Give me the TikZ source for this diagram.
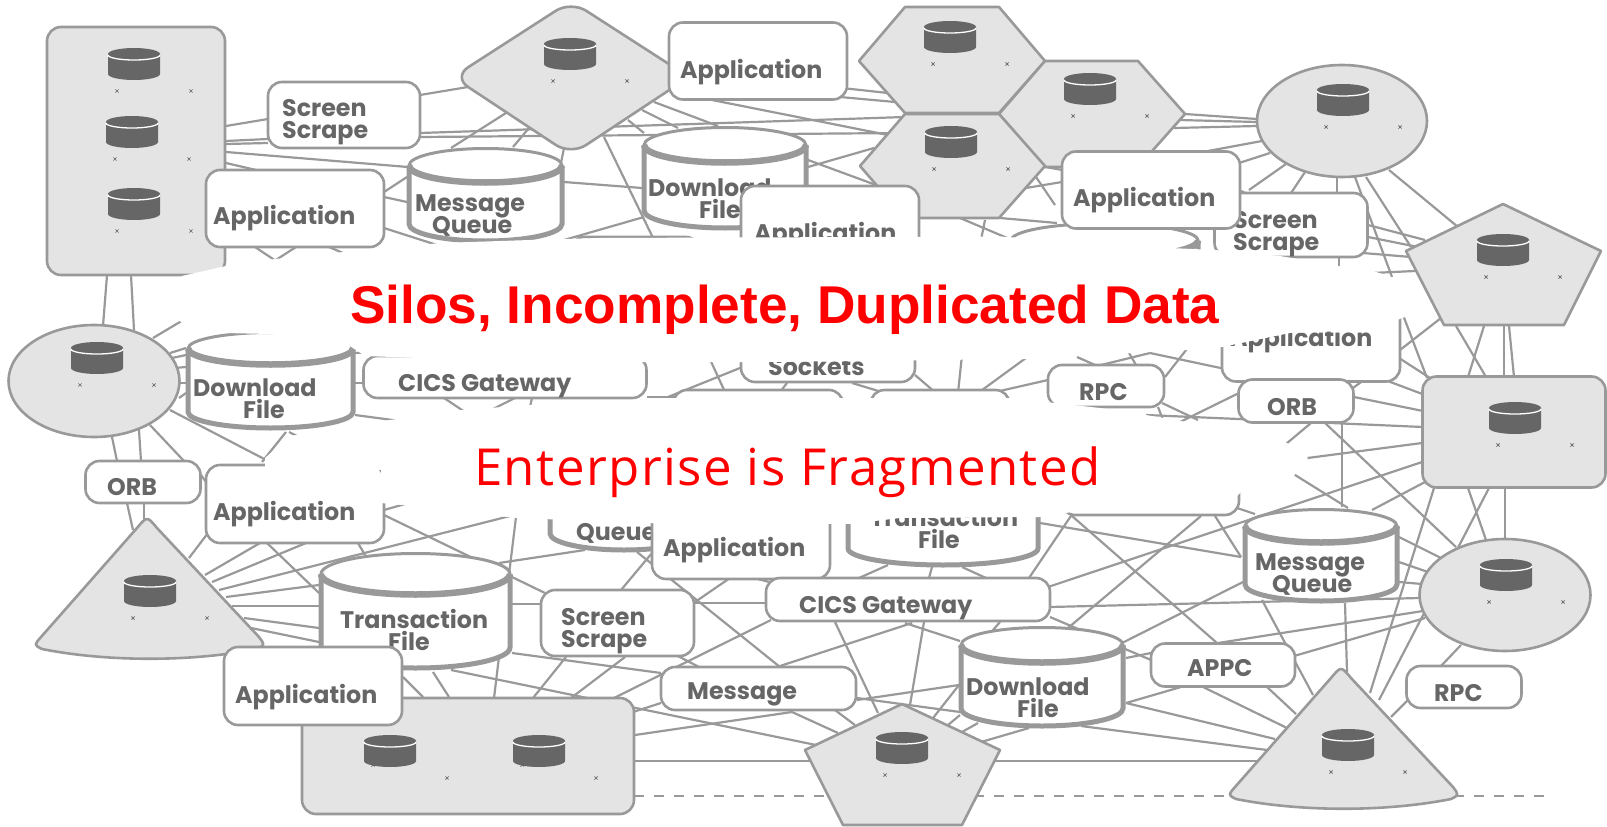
\documentclass[tikz,border=0pt]{standalone}
\usepackage{fontspec}
\usetikzlibrary{calc}
\newfontfamily\lblf[FakeStretch=0.99]{Poppins}
\newfontfamily\tonef{Liberation Sans}
\newfontfamily\ttwof[LetterSpace=2.8]{Open Sans}
\definecolor{lc}{HTML}{999999}
\definecolor{sf}{HTML}{E4E4E4}
\definecolor{tc}{HTML}{666666}
\newcommand{\lblstyle}{\lblf\bfseries\fontsize{24}{21.5}\selectfont\lineskiplimit -50pt\relax}
\tikzset{
 lk/.style={draw=lc,line width=2.2pt},
 lkdash/.style={draw=lc,line width=2.4pt,dash pattern=on 10pt off 10pt},
 box/.style={draw=lc,fill=white,line width=2.6pt,rounded corners=14pt,inner sep=0pt},
 rack/.style={draw=lc,fill=sf,line width=2.6pt,rounded corners=14pt,inner sep=0pt},
 ell/.style={draw=lc,fill=sf,line width=2.6pt},
 poly/.style={draw=lc,fill=sf,line width=2.6pt,line join=round},
 lbl/.style={inner sep=0pt,text=tc,font=\lblstyle,align=left,anchor=base west},
 hd/.style={inner sep=0pt,text=red,anchor=base west}
}
% connector between named places, each with an offset
\newcommand{\lk}[4]{\draw[lk] ($(#1)+(#2)$) -- ($(#3)+(#4)$);}
% database icon with its two small marks; optional: height of the left mark
\newcommand{\dbicon}[3][27]{%
 \begin{scope}[shift={(#2,#3)}]
  \fill[tc] (-26,-10) arc[start angle=180,end angle=0,x radius=26pt,y radius=6pt] -- (26,10) arc[start angle=0,end angle=-180,x radius=26pt,y radius=6pt] -- cycle;
  \draw[white,line width=1.3pt] (-26,-9) arc[start angle=180,end angle=360,x radius=26pt,y radius=5pt];
  \draw[tc,line width=.7pt] (55.4,25.4)--(58.6,28.6) (55.4,28.6)--(58.6,25.4);
  \draw[tc,line width=.7pt] (-18.6,#1-1.6)--(-15.4,#1+1.6) (-18.6,#1+1.6)--(-15.4,#1-1.6);
 \end{scope}}
% cylinder: name, x1, x2, ytop, ylip, ybottom (outer edges)
\newcommand{\cyl}[6]{%
 \pgfmathsetmacro\cxa{#2+2}\pgfmathsetmacro\cxb{#3-2}
 \pgfmathsetmacro\crx{(#3-#2)/2-2}\pgfmathsetmacro\cry{(#5-#4)/2-1}\pgfmathsetmacro\cym{(#4+#5)/2+0.5}\pgfmathsetmacro\cyb{#6-2-\cry}
 \pgfmathsetmacro\cxm{(#2+#3)/2}
 \coordinate (#1) at (\cxm,\cym);
 \fill[white] (\cxa,\cym) arc[start angle=180,end angle=0,x radius=\crx pt,y radius=\cry pt] -- (\cxb,\cyb) arc[start angle=0,end angle=-180,x radius=\crx pt,y radius=\cry pt] -- cycle;
 \draw[lc,line width=5pt] (\cxa,\cym) -- (\cxa,\cyb) arc[start angle=180,end angle=360,x radius=\crx pt,y radius=\cry pt] -- (\cxb,\cym);
 \draw[lc,line width=3pt] (\cxm,\cym) ellipse[x radius=\crx pt,y radius=\cry pt];
 \draw[lc,line width=6.5pt] (\cxa,\cym) arc[start angle=180,end angle=360,x radius=\crx pt,y radius=\cry pt];
}
% rounded triangle with curved base: name, apex x, apex y
\newcommand{\tria}[3]{%
 \begin{scope}[shift={(#2,#3)}]
 \draw[poly] (-10,8) -- (-106,117) .. controls (-113,125) .. (-105,129) .. controls (-40,142) and (45,142) .. (110,129) .. controls (118,125) .. (112,117) -- (10,8) .. controls (0,-4) .. (-10,8) -- cycle;
 \end{scope}}
\begin{document}
\begin{tikzpicture}[x=1pt,y=-1pt]
\useasboundingbox (0,0) rectangle (1607,827);
% named places
\foreach \n/\x/\y in {rA/136/151,scr1/344/115,app2/295/208,mq1/485/195,dia/571/77,app1/758/61,hex1/952/60,hex2/1092/114,hex3/952/166,dl1/725/178,app4/830/212,app5/1151/190,ell1/1342/121,scr2/1291/225,cylH/1105/250,pent1/1503/265,app6/1311/343,rpc1/1106/386,orb1/1296/401,sock/828/360,cics1/505/377,hbA/758/410,hbB/940/410,hbC/1150/480,hbD/635/265,ell2/94/381,dl2/270/380,orb2/143/482,app7/295/504,tri1/150/590,tf1/415/611,app8/313/686,rB/468/756,q2/625/510,app9/741/540,tf2/943/520,cics2/908/600,scr3/617/623,msg/758/688,dl3/1042/677,pent2/902/765,mq2/1321/555,rC/1514/432,ell3/1505/595,appc/1223/665,rpc2/1464/687,tri2/1342/740}
 {\coordinate (\n) at (\x,\y);}
% connectors
\lk{rA}{90,-25}{scr1}{-76,4}
\lk{rA}{90,-10}{scr1}{-76,24}
\lk{rA}{90,-7}{scr1}{-76,28}
\lk{scr1}{76,-20}{dia}{-103,10}
\lk{scr1}{76,18}{hex3}{-47,-49}
\lk{scr1}{76,22}{hex3}{-52,-33}
\lk{rA}{90,1}{mq1}{-77,-28}
\lk{rA}{90,12}{app2}{-39,-38}
\lk{app2}{89,-16}{mq1}{-78,-18}
\lk{app2}{89,-11}{mq1}{-78,7}
\lk{app2}{89,20}{mq1}{-48,50}
\lk{app2}{-40,39}{dl2}{15,-113}
\lk{app2}{1,39}{dl2}{-5,-113}
\lk{app2}{34,39}{dl2}{80,-124}
\lk{dia}{-65,36}{mq1}{-34,-47}
\lk{dia}{-42,51}{mq1}{28,-48}
\lk{dia}{-7,71}{mq1}{76,-32}
\lk{mq1}{79,-13}{dl1}{-83,10}
\lk{dia}{33,60}{dl1}{-70,64}
\lk{dl1}{-81,39}{mq1}{79,45}
\lk{dia}{83,25}{dl1}{-7,-52}
\lk{dia}{71,33}{dl1}{-47,-50}
\lk{dia}{57,43}{dl1}{-81,-45}
\lk{app1}{84,27}{hex1}{-64,33}
\lk{app1}{82,36}{hex1}{-57,42}
\lk{app1}{-46,39}{hex3}{-64,-31}
\lk{dl1}{83,-11}{hex3}{-78,-18}
\lk{dl1}{83,-18}{hex3}{-76,19}
\lk{hex2}{93,0}{ell1}{-85,-2}
\lk{hex2}{87,6}{ell1}{-85,1}
\lk{hex2}{82,14}{ell1}{-85,5}
\lk{app5}{57,-39}{ell1}{-80,20}
\lk{app5}{88,-27}{ell1}{-72,32}
\lk{scr2}{-42,-35}{ell1}{-56,43}
\lk{scr2}{0,-32}{ell1}{-37,51}
\lk{scr2}{46,-32}{ell1}{-5,56}
\lk{app5}{90,1}{scr2}{-35,-27}
\lk{ell1}{13,56}{pent1}{-111,12}
\lk{ell1}{24,56}{pent1}{-92,-18}
\lk{ell1}{47,49}{pent1}{-45,-38}
\lk{scr2}{77,0}{pent1}{-78,-25}
\lk{scr2}{77,12}{pent1}{-85,-18}
\lk{scr2}{72,28}{pent1}{-92,-8}
\lk{scr2}{59,49}{pent1}{-88,6}
\lk{scr2}{48,32}{app6}{28,-68}
\lk{pent1}{-47,61}{rC}{-28,-55}
\lk{pent1}{-19,61}{rC}{-46,-55}
\lk{pent1}{1,61}{rC}{-10,-55}
\lk{pent1}{6,61}{rC}{0,-55}
\lk{pent1}{-62,53}{app6}{89,7}
\lk{app6}{88,15}{rC}{-84,-54}
\lk{pent1}{-103,42}{rC}{-87,-54}
\lk{app6}{42,25}{rC}{-89,-37}
\lk{app6}{30,25}{orb1}{45,-21}
\lk{app6}{-19,25}{orb1}{-29,-21}
\lk{app6}{-44,25}{orb1}{-17,-21}
\lk{app6}{69,25}{orb1}{57,-13}
\lk{orb1}{58,-4}{rC}{-91,-21}
\lk{orb1}{-57,-8}{hbC}{30,-58}
\lk{rpc1}{44,-33}{orb1}{-19,-21}
\lk{rpc1}{-5,-21}{rpc1}{44,-33}
\lk{rpc1}{-29,-29}{rpc1}{-11,-21}
\lk{rpc1}{23,-33}{rpc1}{30,-21}
\lk{app6}{-121,2}{rpc1}{59,-9}
\lk{rpc1}{56,17}{hbC}{48,-60}
\lk{rpc1}{52,21}{hbC}{15,-55}
\lk{hbC}{-4,-65}{rC}{-91,-5}
\lk{orb1}{15,22}{hbC}{130,-31}
\lk{orb1}{29,22}{ell3}{-49,-48}
\lk{orb1}{46,22}{mq2}{21,-48}
\lk{rC}{-92,11}{hbC}{150,-21}
\lk{rC}{-92,30}{cics2}{140,-13}
\lk{hbC}{137,-10}{mq2}{27,-47}
\lk{rC}{-89,50}{mq2}{51,-45}
\lk{rC}{-80,56}{tri2}{28,-47}
\lk{rC}{-46,56}{ell3}{-19,-55}
\lk{rC}{-25,56}{tri2}{37,-40}
\lk{rC}{-9,56}{ell3}{0,-57}
\lk{mq2}{78,-18}{ell3}{-64,-37}
\lk{mq2}{78,7}{ell3}{-77,-23}
\lk{mq2}{78,27}{ell3}{-83,-11}
\lk{cics2}{142,7}{ell3}{-85,3}
\lk{mq2}{-59,45}{tri2}{-29,-45}
\lk{mq2}{24,48}{tri2}{5,-68}
\lk{ell3}{-82,16}{appc}{-5,-22}
\lk{ell3}{-80,23}{appc}{71,-9}
\lk{ell3}{-44,50}{rpc2}{-23,-21}
\lk{rpc2}{-56,13}{tri2}{49,-23}
\lk{tf2}{97,3}{mq2}{-80,2}
\lk{hbC}{-78,36}{appc}{-6,-22}
\lk{hbC}{51,36}{dl3}{20,-44}
\lk{hbC}{65,36}{mq2}{-80,2}
\lk{hbC}{87,28}{mq2}{-66,-41}
\lk{mq2}{-78,27}{dl3}{80,-34}
\lk{dl3}{84,-19}{appc}{-72,-12}
\lk{cics2}{142,17}{appc}{-72,-5}
\lk{dl3}{84,26}{appc}{-42,22}
\lk{appc}{-20,22}{tri2}{-55,-12}
\lk{appc}{44,22}{tri2}{-46,-26}
\lk{dl3}{84,26}{tri2}{-67,-1}
\lk{dl3}{39,49}{tri2}{-75,10}
\lk{rB}{166,5}{tri2}{-84,21}
\draw[lkdash] ($(rB)+(166,40)$) -- ($(tri2)+(202,56)$);
\lk{tf1}{84,-48}{q2}{-40,40}
\lk{q2}{12,42}{msg}{22,-21}
\lk{msg}{22,-22}{cics2}{4,23}
\lk{app9}{-89,13}{scr3}{4,-33}
\lk{app9}{-11,38}{scr3}{78,-21}
\lk{scr3}{77,-20}{cics2}{-142,3}
\lk{app9}{13,38}{cics2}{-135,-17}
\lk{app7}{89,11}{scr3}{-72,-30}
\lk{tf1}{97,-7}{scr3}{-76,-19}
\lk{cics2}{-137,20}{rB}{146,-58}
\lk{scr3}{59,32}{msg}{-59,-21}
\lk{tf1}{97,42}{msg}{-97,-15}
\lk{scr3}{-51,34}{rB}{65,-58}
\lk{scr3}{8,34}{rB}{103,-58}
\lk{tf1}{36,59}{pent2}{-86,-20}
\lk{rB}{165,-44}{msg}{-97,15}
\lk{rB}{167,-21}{msg}{34,24}
\lk{msg}{34,24}{pent2}{-64,-32}
\lk{msg}{77,22}{pent2}{-47,-40}
\lk{msg}{99,12}{dl3}{-83,8}
\lk{msg}{99,10}{dl3}{-82,35}
\lk{cics2}{-73,22}{pent2}{-24,-52}
\lk{cics2}{16,22}{pent2}{8,-60}
\lk{cics2}{-3,23}{dl3}{-82,-36}
\lk{dl3}{-83,8}{pent2}{31,-47}
\lk{dl3}{-82,38}{pent2}{46,-40}
\lk{dl3}{-64,46}{pent2}{60,-33}
\lk{dl3}{-13,51}{pent2}{79,-23}
\lk{cics2}{92,22}{dl3}{-49,-47}
\lk{tf2}{-55,45}{cics2}{-49,-22}
\lk{tf2}{-11,47}{cics2}{21,-22}
\lk{tf2}{19,47}{cics2}{78,-22}
\lk{hbC}{-75,30}{cics2}{121,-22}
\lk{cics1}{142,20}{hbA}{-83,-13}
\lk{hbA}{-90,-13}{sock}{-88,8}
\lk{cics1}{203,-22}{hbA}{-33,-18}
\lk{sock}{-41,23}{hbA}{22,-18}
\lk{sock}{24,23}{hbB}{-55,-17}
\lk{sock}{87,15}{hbB}{-4,-17}
\lk{sock}{134,-5}{hbB}{18,-17}
\lk{rpc1}{-76,-31}{hbB}{38,-17}
\lk{rpc1}{-58,-6}{hbB}{51,-17}
\lk{ell2}{76,-28}{dl2}{-84,-32}
\lk{ell2}{78,-23}{dl2}{-84,-25}
\lk{ell2}{81,-13}{dl2}{-84,-13}
\lk{ell2}{85,2}{dl2}{-84,3}
\lk{ell2}{85,17}{dl2}{-84,13}
\lk{ell2}{59,-43}{dl2}{-80,-64}
\lk{ell2}{76,29}{app7}{-25,-42}
\lk{dl2}{16,52}{app7}{-33,-42}
\lk{dl2}{19,52}{dl2}{35,60}
\lk{dl2}{85,-27}{cics1}{-85,-28}
\lk{dl2}{85,3}{cics1}{-141,6}
\lk{dl2}{85,35}{cics1}{-105,44}
\lk{cics1}{-61,21}{cics1}{-40,35}
\lk{cics1}{-14,33}{cics1}{10,21}
\lk{cics1}{25,30}{cics1}{27,21}
\lk{rA}{-29,124}{ell2}{9,-55}
\lk{rA}{-5,124}{ell2}{40,-51}
\lk{ell2}{18,56}{orb2}{-26,-21}
\lk{ell2}{45,49}{orb2}{-2,-21}
\lk{ell2}{56,44}{orb2}{41,-21}
\lk{orb2}{58,-7}{app7}{-89,-22}
\lk{orb2}{-16,21}{tri1}{-17,-60}
\lk{orb2}{1,21}{tri1}{-6,-68}
\lk{app7}{-87,29}{tri1}{39,-32}
\lk{app7}{-35,39}{tri1}{55,-15}
\lk{app7}{11,39}{tri1}{62,-8}
\lk{tf1}{95,-95}{tri1}{69,0}
\lk{tf1}{-96,-26}{tri1}{76,7}
\lk{tf1}{-96,-5}{tri1}{82,16}
\lk{tf1}{-96,17}{tri1}{94,28}
\lk{tf1}{-96,31}{tri1}{101,38}
\lk{app7}{-28,39}{tf1}{-96,-18}
\lk{app7}{63,39}{tf1}{-50,-56}
\lk{app7}{89,6}{app7}{110,0}
\lk{q2}{-109,7}{rB}{26,-58}
\lk{tf1}{-12,66}{rB}{-45,-59}
\lk{tf1}{18,61}{rB}{-19,-59}
\lk{hex3}{84,11}{app5}{-96,15}
\lk{app5}{-89,-8}{hex3}{74,22}
\lk{hex3}{94,1}{app5}{-89,-20}
\lk{hex3}{8,52}{cylH}{-93,-10}
\lk{hex3}{33,54}{cylH}{-124,-10}
\lk{hex3}{48,52}{cylH}{-48,-27}
% servers
\node[rack,minimum width=178pt,minimum height=248pt] (rAs) at (rA) {};
\dbicon{134}{64}\dbicon{132}{132}\dbicon{134}{204}
\draw[poly,rounded corners=18pt] (453,77) -- (571,1) -- (689,77) -- (571,155) -- cycle;
\dbicon{570}{54}
\draw[poly] (859,61) -- (905,7) -- (999,7) -- (1045,61) -- (999,113) -- (905,113) -- cycle;
\dbicon{950}{37}
\draw[poly] (999,114) -- (1045,61) -- (1138,61) -- (1185,114) -- (1138,167) -- (1045,167) -- cycle;
\dbicon{1090}{89}
\draw[poly] (860,166) -- (905,114) -- (999,114) -- (1045,166) -- (999,218) -- (905,218) -- cycle;
\dbicon{951}{142}
\draw[ell] (ell1) ellipse[x radius=85pt,y radius=56pt];
\dbicon{1343}{100}
\draw[ell] (ell2) ellipse[x radius=85.5pt,y radius=56pt];
\dbicon{97}{358}
\draw[ell] (ell3) ellipse[x radius=85.5pt,y radius=56pt];
\dbicon{1506}{575}
\draw[poly] (1503,204) -- (1601,251) -- (1564,325) -- (1444,325) -- (1406,251) -- cycle;
\dbicon{1503}{250}
\draw[poly] (902,704) -- (1000,750) -- (962,825) -- (843,825) -- (805,750) -- cycle;
\dbicon{902}{748}
\node[rack,minimum width=183pt,minimum height=111pt] (rCs) at (rC) {};
\dbicon{1515}{418}
\node[rack,minimum width=332pt,minimum height=116pt] (rBs) at (rB) {};
\dbicon[14]{390}{751}\dbicon[14]{539}{751}
\tria{tri1s}{147}{520}
\dbicon{150}{591}
\tria{tri2s}{1341}{670}
\dbicon{1348}{745}
% storage
\cyl{mq1c}{407}{564}{147}{183}{243}
\node[lbl] (mq1t) at (415,233) {Message\\[0pt]\hspace*{17pt}Queue};
\cyl{dl1c}{642}{808}{126}{163}{230}
\node[lbl] (dl1t) at (648,218) {Download\\[0pt]\hspace*{51pt}File};
\cyl{cylHc}{1009}{1200}{222}{258}{300}
\cyl{dl2c}{186}{355}{331}{365}{430}
\node[lbl] (dl2t) at (193,418) {Download\\[0pt]\hspace*{50pt}File};
\cyl{tf1c}{319}{512}{552}{595}{670}
\node[lbl] (tf1t) at (340,650) {Transaction\\[0pt]\hspace*{48pt}File};
\cyl{q2c}{548}{700}{480}{515}{552}
\node[lbl] (q2t) at (576,540) {Queue};
\cyl{tf2c}{846}{1040}{465}{500}{567}
\node[lbl] (tf2t) at (870,548) {Transaction\\[0pt]\hspace*{48pt}File};
\cyl{dl3c}{959}{1125}{626}{663}{728}
\node[lbl] (dl3t) at (966,717) {Download\\[0pt]\hspace*{51pt}File};
\cyl{mq2c}{1243}{1399}{508}{543}{603}
\node[lbl] (mq2t) at (1255,592) {Message\\[0pt]\hspace*{17pt}Queue};
% gateway boxes
\node[box,minimum width=130pt,minimum height=56pt] (hbDs) at (hbD) {};
\node[box,minimum width=170pt,minimum height=40pt] (hbAs) at (hbA) {};
\node[box,minimum width=139pt,minimum height=40pt] (hbBs) at (hbB) {};
\node[box,minimum width=178pt,minimum height=70pt] (hbCs) at (hbC) {};
\node[box,minimum width=152pt,minimum height=66pt] (scr1s) at (scr1) {};
\node[lbl] (scr1t) at (282,138) {Screen\\Scrape};
\node[box,minimum width=178pt,minimum height=77pt] (app2s) at (295,208.5) {};
\node[lbl] (app2t) at (213,224) {Application};
\node[box,minimum width=178pt,minimum height=77pt] (app1s) at (app1) {};
\node[lbl] (app1t) at (680,78) {Application};
\node[box,minimum width=178pt,minimum height=77pt] (app4s) at (830,224.5) {};
\node[lbl] (app4t) at (754,241) {Application};
\node[box,minimum width=153pt,minimum height=64pt] (scr2s) at (scr2) {};
\node[lbl] (scr2t) at (1233,250) {Screen\\Scrape};
\node[box,minimum width=178pt,minimum height=77pt] (app5s) at (app5) {};
\node[lbl] (app5t) at (1073,206) {Application};
\node[box,minimum width=178pt,minimum height=77pt] (app6s) at (app6) {};
\node[lbl] (app6t) at (1230,346) {Application};
\node[box,minimum width=116pt,minimum height=42pt] (rpc1s) at (rpc1) {};
\node[lbl] (rpc1t) at (1079,400) {RPC};
\node[box,minimum width=115pt,minimum height=43pt] (orb1s) at (orb1) {};
\node[lbl] (orb1t) at (1267,415) {ORB};
\node[box,minimum width=174pt,minimum height=44pt] (socks) at (sock) {};
\node[lbl] (sockt) at (768,375) {Sockets};
\node[box,minimum width=283pt,minimum height=42pt] (cics1s) at (cics1) {};
\node[lbl] (cics1t) at (398,391) {CICS Gateway};
\node[box,minimum width=115pt,minimum height=42pt] (orb2s) at (orb2) {};
\node[lbl] (orb2t) at (107,495) {ORB};
\node[box,minimum width=178pt,minimum height=78pt] (app7s) at (app7) {};
\node[lbl] (app7t) at (213,520) {Application};
\node[box,minimum width=178pt,minimum height=78pt] (app8s) at (app8) {};
\node[lbl] (app8t) at (235,703) {Application};
\node[box,minimum width=178pt,minimum height=78pt] (app9s) at (app9) {};
\node[lbl] (app9t) at (663,556) {Application};
\node[box,minimum width=284pt,minimum height=43pt] (cics2s) at (908,599.5) {};
\node[lbl] (cics2t) at (799,613) {CICS Gateway};
\node[box,minimum width=153pt,minimum height=66pt] (scr3s) at (617.5,623) {};
\node[lbl] (scr3t) at (561,647) {Screen\\Scrape};
\node[box,minimum width=195pt,minimum height=43pt] (msgs) at (758.5,688.5) {};
\node[lbl] (msgt) at (687,699) {Message};
\node[box,minimum width=144pt,minimum height=43pt] (appcs) at (appc) {};
\node[lbl] (appct) at (1187,676) {APPC};
\node[box,minimum width=115pt,minimum height=42pt] (rpc2s) at (rpc2) {};
\node[lbl] (rpc2t) at (1434,701) {RPC};
% white clouds over the picture
\fill[white] (226,266) -- (275,259) -- (344,252) -- (441,243) -- (530,240) -- (600,238) -- (1000,236.5) -- (1170,248) -- (1215,250) -- (1280,256) -- (1339,266) -- (1373,271) -- (1400,280) -- (1415,292) -- (1405,317) -- (1371,330) -- (1290,333) -- (1222,347) -- (1187,350) -- (1024,359) -- (770,362) -- (530,362) -- (365,356) -- (350,346) -- (270,334) -- (224,333) -- (181,322) -- (155,300) -- (182,276) -- cycle;
\fill[white] (265,458) -- (290,436) -- (390,420) -- (461,410) -- (530,405) -- (668,398) -- (1010,398) -- (1100,408) -- (1140,414) -- (1198,424) -- (1240,426) -- (1287,443) -- (1308,458) -- (1293,477) -- (1243,490) -- (1236,497) -- (1225,508) -- (1072,512) -- (1040,517) -- (900,518) -- (850,524) -- (650,523) -- (516,518) -- (403,505) -- (381,503) -- (381,470) -- (265,468) -- cycle;
\node[hd,font=\tonef\bfseries\fontsize{53.2}{60}\selectfont] (h1) at (350,323) {Silos, Incomplete, Duplicated Data};
\node[hd,font=\ttwof\fontsize{51}{60}\selectfont] (h2) at (474,485) {Enterprise is Fragmented};
\end{tikzpicture}
\end{document}
